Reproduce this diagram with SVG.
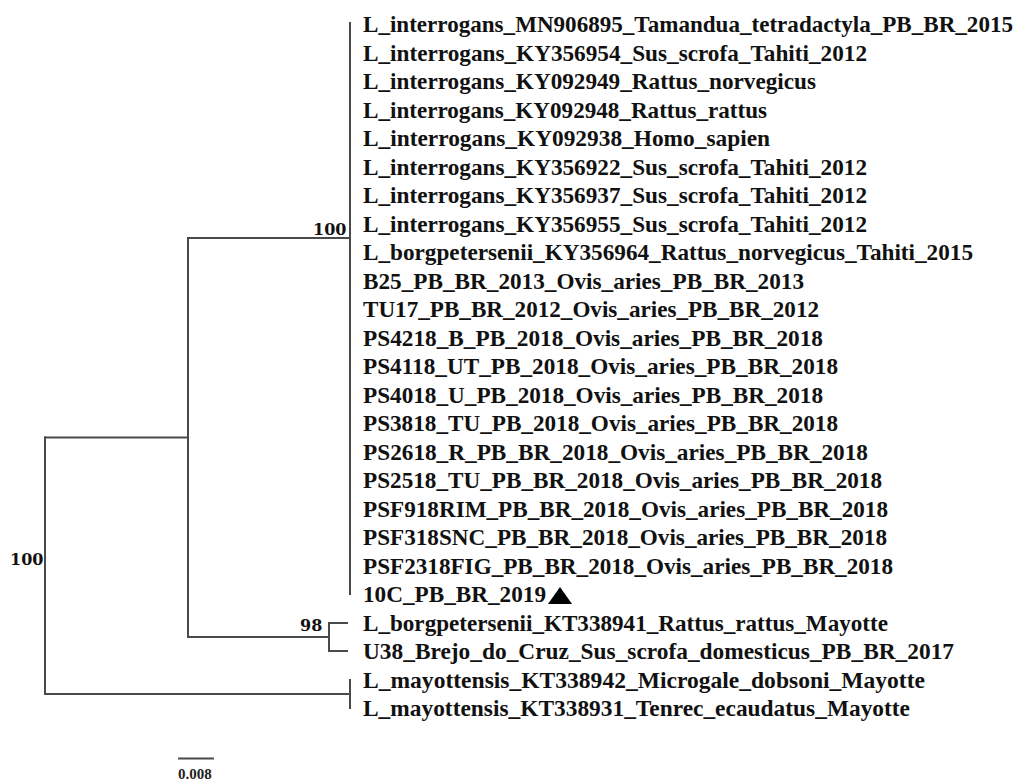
<svg xmlns="http://www.w3.org/2000/svg" width="1020" height="781" viewBox="0 0 1020 781">
<style>
.tip{font-family:"Liberation Serif","Times New Roman",serif;font-weight:bold;font-size:23px;fill:#111}
.sup{font-family:"DejaVu Serif","Liberation Serif",serif;font-weight:bold;font-size:16px;fill:#111}
.scl{font-family:"Liberation Serif","Times New Roman",serif;font-weight:bold;font-size:15px;fill:#222}
.br{stroke:#4a4a4a;stroke-width:2;fill:none;stroke-linecap:square}
</style>
<rect width="1020" height="781" fill="#ffffff"/>
<g id="connectors" class="br">
<path d="M45,437.5V694"/>
<path d="M45,437.5H188"/>
<path d="M45,694H350"/>
<path d="M350,680V708"/>
<path d="M188,238V637"/>
<path d="M188,238H350"/>
<path d="M188,637H329"/>
<path d="M350,23V594"/>
<path d="M329,623V651"/>
<path d="M329,623H347"/>
<path d="M329,651H347"/>
</g>
<g id="support-labels">
<text id="sup-root" class="sup" x="10" y="565">100</text>
<text id="sup-clade" class="sup" x="313" y="235">100</text>
<text id="sup-98" class="sup" x="300" y="631">98</text>
</g>
<g id="tips" lengthAdjust="spacingAndGlyphs">
<g id="t1"><text class="tip" x="363" y="32" textLength="650" lengthAdjust="spacingAndGlyphs">L_interrogans_MN906895_Tamandua_tetradactyla_PB_BR_2015</text></g>
<g id="t2"><text class="tip" x="363" y="60.5" textLength="504" lengthAdjust="spacingAndGlyphs">L_interrogans_KY356954_Sus_scrofa_Tahiti_2012</text></g>
<g id="t3"><text class="tip" x="363" y="89" textLength="453" lengthAdjust="spacingAndGlyphs">L_interrogans_KY092949_Rattus_norvegicus</text></g>
<g id="t4"><text class="tip" x="363" y="117.5" textLength="404" lengthAdjust="spacingAndGlyphs">L_interrogans_KY092948_Rattus_rattus</text></g>
<g id="t5"><text class="tip" x="363" y="146" textLength="407" lengthAdjust="spacingAndGlyphs">L_interrogans_KY092938_Homo_sapien</text></g>
<g id="t6"><text class="tip" x="363" y="174.5" textLength="504" lengthAdjust="spacingAndGlyphs">L_interrogans_KY356922_Sus_scrofa_Tahiti_2012</text></g>
<g id="t7"><text class="tip" x="363" y="203" textLength="504" lengthAdjust="spacingAndGlyphs">L_interrogans_KY356937_Sus_scrofa_Tahiti_2012</text></g>
<g id="t8"><text class="tip" x="363" y="231.5" textLength="504" lengthAdjust="spacingAndGlyphs">L_interrogans_KY356955_Sus_scrofa_Tahiti_2012</text></g>
<g id="t9"><text class="tip" x="363" y="260" textLength="610" lengthAdjust="spacingAndGlyphs">L_borgpetersenii_KY356964_Rattus_norvegicus_Tahiti_2015</text></g>
<g id="t10"><text class="tip" x="363" y="288.5" textLength="441" lengthAdjust="spacingAndGlyphs">B25_PB_BR_2013_Ovis_aries_PB_BR_2013</text></g>
<g id="t11"><text class="tip" x="363" y="317" textLength="456" lengthAdjust="spacingAndGlyphs">TU17_PB_BR_2012_Ovis_aries_PB_BR_2012</text></g>
<g id="t12"><text class="tip" x="363" y="345.5" textLength="460" lengthAdjust="spacingAndGlyphs">PS4218_B_PB_2018_Ovis_aries_PB_BR_2018</text></g>
<g id="t13"><text class="tip" x="363" y="374" textLength="475" lengthAdjust="spacingAndGlyphs">PS4118_UT_PB_2018_Ovis_aries_PB_BR_2018</text></g>
<g id="t14"><text class="tip" x="363" y="402.5" textLength="460" lengthAdjust="spacingAndGlyphs">PS4018_U_PB_2018_Ovis_aries_PB_BR_2018</text></g>
<g id="t15"><text class="tip" x="363" y="431" textLength="475" lengthAdjust="spacingAndGlyphs">PS3818_TU_PB_2018_Ovis_aries_PB_BR_2018</text></g>
<g id="t16"><text class="tip" x="363" y="459.5" textLength="505" lengthAdjust="spacingAndGlyphs">PS2618_R_PB_BR_2018_Ovis_aries_PB_BR_2018</text></g>
<g id="t17"><text class="tip" x="363" y="488" textLength="519" lengthAdjust="spacingAndGlyphs">PS2518_TU_PB_BR_2018_Ovis_aries_PB_BR_2018</text></g>
<g id="t18"><text class="tip" x="363" y="516.5" textLength="525" lengthAdjust="spacingAndGlyphs">PSF918RIM_PB_BR_2018_Ovis_aries_PB_BR_2018</text></g>
<g id="t19"><text class="tip" x="363" y="545" textLength="524" lengthAdjust="spacingAndGlyphs">PSF318SNC_PB_BR_2018_Ovis_aries_PB_BR_2018</text></g>
<g id="t20"><text class="tip" x="363" y="573.5" textLength="530" lengthAdjust="spacingAndGlyphs">PSF2318FIG_PB_BR_2018_Ovis_aries_PB_BR_2018</text></g>
<g id="t21"><text class="tip" x="363" y="602" textLength="183" lengthAdjust="spacingAndGlyphs">10C_PB_BR_2019</text><polygon points="548,604 572,604 560,587" fill="#000"/></g>
<g id="t22"><text class="tip" x="363" y="630.5" textLength="525" lengthAdjust="spacingAndGlyphs">L_borgpetersenii_KT338941_Rattus_rattus_Mayotte</text></g>
<g id="t23"><text class="tip" x="363" y="659" textLength="591" lengthAdjust="spacingAndGlyphs">U38_Brejo_do_Cruz_Sus_scrofa_domesticus_PB_BR_2017</text></g>
<g id="t24"><text class="tip" x="363" y="687.5" textLength="562" lengthAdjust="spacingAndGlyphs">L_mayottensis_KT338942_Microgale_dobsoni_Mayotte</text></g>
<g id="t25"><text class="tip" x="363" y="716" textLength="547" lengthAdjust="spacingAndGlyphs">L_mayottensis_KT338931_Tenrec_ecaudatus_Mayotte</text></g>
</g>
<g id="scale-bar">
<path class="br" d="M179,758.5H213" stroke-linecap="butt"/>
<text class="scl" x="178" y="779">0.008</text>
</g>
</svg>
